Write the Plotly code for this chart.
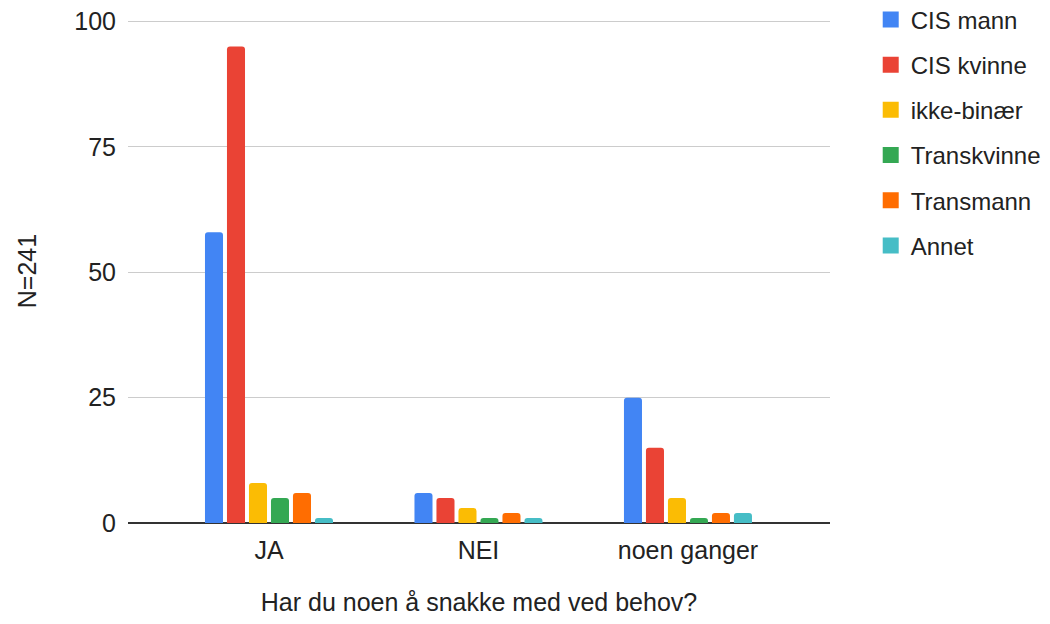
import plotly.graph_objects as go

categories = ["JA", "NEI", "noen ganger"]
series_names = ["CIS mann", "CIS kvinne", "ikke-binær", "Transkvinne", "Transmann", "Annet"]
cis_mann = [58, 6, 25]
cis_kvinne = [95, 5, 15]
ikke_binaer = [8, 3, 5]
transkvinne = [5, 1, 1]
transmann = [6, 2, 2]
annet = [1, 1, 2]
colors = ["#4285F4", "#EA4335", "#FBBC04", "#34A853", "#FF6D01", "#46BDC6"]
y_ticks = [0, 25, 50, 75, 100]

values = [cis_mann, cis_kvinne, ikke_binaer, transkvinne, transmann, annet]

fig = go.Figure()
for name, vals, col in zip(series_names, values, colors):
    fig.add_trace(go.Bar(
        x=categories, y=vals, name=name, legendgroup=name, showlegend=False,
        marker=dict(color=col, cornerradius=3, line=dict(width=0)),
    ))
# legend entries with larger square swatches
for name, col in zip(series_names, colors):
    fig.add_trace(go.Scatter(
        x=[categories[0]], y=[None], name=name, legendgroup=name, mode="markers",
        marker=dict(symbol="square", color=col, size=22), showlegend=True,
    ))

font_family = "Arial, Liberation Sans, sans-serif"
txt = "#222222"
fs = 25
fig.update_layout(
    width=1042, height=608,
    margin=dict(l=120, r=220, t=10.5, b=93, autoexpand=False),
    paper_bgcolor="white", plot_bgcolor="white",
    barmode="group", bargap=0.37, bargroupgap=0.18,
    font=dict(family=font_family, size=fs, color=txt),
    showlegend=True,
    legend=dict(x=1.058, xanchor="left", y=1.043, yanchor="top",
                traceorder="grouped", tracegroupgap=11,
                font=dict(size=24, color=txt),
                itemsizing="trace", bgcolor="rgba(0,0,0,0)"),
    xaxis=dict(title=dict(text="Har du noen å snakke med ved behov?", standoff=40,
                          font=dict(size=fs, color=txt)),
               range=[-0.673, 2.678], showgrid=False, ticks="", showline=False,
               tickfont=dict(size=fs, color=txt), ticklabelstandoff=10),
    yaxis=dict(title=dict(text="N=241", standoff=30, font=dict(size=fs, color=txt)),
               range=[0, 100.5], tickvals=y_ticks, showgrid=True, gridcolor="#CCCCCC",
               gridwidth=1, zeroline=True, zerolinecolor="#333333", zerolinewidth=2,
               tickfont=dict(size=fs, color=txt), ticklabelstandoff=11,
               ticklabeloverflow="allow", showline=False),
)
fig.write_html("out.html")
